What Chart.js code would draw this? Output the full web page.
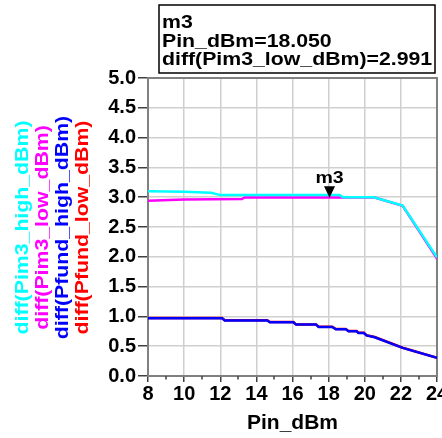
<!DOCTYPE html>
<html><head><meta charset="utf-8">
<script src="https://cdn.jsdelivr.net/npm/chart.js@4.4.1/dist/chart.umd.min.js"></script>
<style>html,body{margin:0;padding:0;background:#fff;overflow:hidden}canvas{display:block}</style>
</head><body>
<canvas id="c" width="442" height="438"></canvas>
<script>
// ---- data ----
const xTickLabels = ['8','10','12','14','16','18','20','22','24'];
const yTickLabels = ['0.0','0.5','1.0','1.5','2.0','2.5','3.0','3.5','4.0','4.5','5.0'];
const xMinorTicks = [9,11,13,15,17,19,21,23];
const xTitle = 'Pin_dBm';
const seriesNames = ['diff(Pim3_high_dBm)','diff(Pim3_low_dBm)','diff(Pfund_high_dBm)','diff(Pfund_low_dBm)'];
const seriesColors = ['#00ffff','#ff00ff','#0000ff','#ff0000'];

const pim3HighX = [8, 10, 11.5, 12.0, 18.6, 18.8, 20.5, 22.1, 24];
const pim3HighY = [3.10, 3.09, 3.075, 3.035, 3.035, 3.00, 3.00, 2.86, 1.99];
const pim3LowX  = [8, 10, 13.2, 13.35, 18.6, 20.5, 22.1, 24];
const pim3LowY  = [2.94, 2.96, 2.97, 2.995, 2.995, 3.00, 2.855, 1.97];
const pfundHighX = [8, 12.1, 12.25, 14.6, 14.75, 16.05, 16.2, 17.3, 17.45, 18.2, 18.4, 18.95, 19.1, 19.55, 19.65, 19.95, 20.1, 20.55, 22.1, 24];
const pfundHighY = [0.97, 0.97, 0.933, 0.933, 0.90, 0.90, 0.862, 0.862, 0.822, 0.822, 0.783, 0.783, 0.75, 0.75, 0.722, 0.722, 0.68, 0.65, 0.472, 0.305];
const pfundLowX  = [8, 12.1, 12.25, 14.6, 14.75, 16.05, 16.2, 17.3, 17.45, 18.2, 18.4, 18.95, 19.1, 19.55, 19.65, 19.95, 20.1, 20.55, 22.1, 24];
const pfundLowY  = [0.973, 0.973, 0.937, 0.937, 0.904, 0.904, 0.866, 0.866, 0.826, 0.826, 0.787, 0.787, 0.754, 0.754, 0.726, 0.726, 0.684, 0.654, 0.475, 0.307];

const markerName = 'm3';
const markerX = 18.05;
const markerY = 2.991;
const markerTrace = 'diff(Pim3_low_dBm)';

// ---- helpers ----
const FONT = '"Liberation Sans", Arial, sans-serif';
function pts(xs, ys){ return xs.map((x,i)=>({x:x, y:ys[i]})); }
function sText(ctx, text, x, y, size, sx, align){
  ctx.save(); ctx.translate(x,y); ctx.scale(sx,1);
  ctx.font = 'bold ' + size + 'px ' + FONT;
  ctx.textAlign = align; ctx.textBaseline = 'alphabetic'; ctx.fillStyle = '#000';
  ctx.fillText(text,0,0); ctx.restore();
}

const framePlugin = {
  id:'frame',
  beforeDatasetsDraw(chart){
    const {ctx, chartArea:a} = chart;
    ctx.save();
    ctx.strokeStyle = '#808080'; ctx.lineWidth = 2;
    ctx.strokeRect(a.left, a.top, a.right-a.left, a.bottom-a.top);
    const xs = chart.scales.x;
    ctx.strokeStyle = '#404040'; ctx.lineWidth = 1.5;
    xMinorTicks.forEach(v=>{
      const px = Math.round(xs.getPixelForValue(v));
      ctx.beginPath(); ctx.moveTo(px, a.bottom); ctx.lineTo(px, a.bottom+3.5); ctx.stroke();
    });
    ctx.restore();
  },
  afterDraw(chart){
    const {ctx, chartArea:a} = chart;
    const xs = chart.scales.x, ys = chart.scales.y;
    const cy = (a.top + a.bottom)/2 + 0.5;
    const baseX = [28, 48, 68, 88];
    seriesNames.forEach((n,i)=>{
      ctx.save();
      ctx.translate(baseX[i], cy);
      ctx.rotate(-Math.PI/2);
      ctx.scale(1.15,1);
      ctx.font = 'bold 18.5px ' + FONT;
      ctx.textAlign = 'center'; ctx.textBaseline = 'alphabetic';
      ctx.fillStyle = seriesColors[i];
      ctx.fillText(n,0,0);
      ctx.restore();
    });
    const mx = xs.getPixelForValue(markerX), my = ys.getPixelForValue(markerY);
    ctx.save();
    ctx.fillStyle = '#000';
    ctx.beginPath(); ctx.moveTo(mx, my); ctx.lineTo(mx-5.5, my-11.5); ctx.lineTo(mx+5.5, my-11.5); ctx.closePath(); ctx.fill();
    ctx.restore();
    sText(ctx, markerName, mx, my-14.5, 17, 1.15, 'center');
    ctx.save();
    ctx.strokeStyle = '#000'; ctx.lineWidth = 1.5;
    ctx.strokeRect(159, 5, 276, 68);
    ctx.restore();
    sText(ctx, markerName, 162, 28, 18.5, 1.15, 'left');
    sText(ctx, xTitle + '=' + markerX.toFixed(3), 162, 46.7, 18.5, 1.15, 'left');
    sText(ctx, markerTrace + '=' + markerY.toFixed(3), 162, 65.4, 18.5, 1.15, 'left');
  }
};

new Chart(document.getElementById('c'), {
  type:'line',
  data:{
    datasets:[
      {label:seriesNames[0], data:pts(pim3HighX,pim3HighY), borderColor:seriesColors[0], borderWidth:2.5},
      {label:seriesNames[1], data:pts(pim3LowX,pim3LowY), borderColor:seriesColors[1], borderWidth:2.5},
      {label:seriesNames[2], data:pts(pfundHighX,pfundHighY), borderColor:seriesColors[2], borderWidth:2.5},
      {label:seriesNames[3], data:pts(pfundLowX,pfundLowY), borderColor:seriesColors[3], borderWidth:2.5}
    ]
  },
  options:{
    responsive:false, animation:false,
    elements:{point:{radius:0}, line:{tension:0, fill:false}},
    layout:{padding:{left:0, top:78, right:5, bottom:0}},
    plugins:{legend:{display:false}, tooltip:{enabled:false}},
    scales:{
      x:{
        type:'linear', min:8, max:24,
        ticks:{stepSize:2, color:'#000', padding:0, maxRotation:0, autoSkip:false,
          font:{family:FONT, size:20, weight:'bold'},
          callback:(v)=>{ const i = xTickLabels.indexOf(String(v)); return i>=0 ? xTickLabels[i] : ''; }},
        grid:{color:'#cfcfcf', lineWidth:1.5, tickLength:6, tickColor:'#404040', tickWidth:1.5},
        border:{color:'#808080', width:2},
        title:{display:true, text:xTitle, color:'#000', padding:{top:0,bottom:2}, font:{family:FONT, size:21, weight:'bold'}},
        afterFit:(s)=>{ s.height = 62; s.paddingLeft = 0; s.paddingRight = 0; }
      },
      y:{
        min:0, max:5,
        ticks:{stepSize:0.5, color:'#000', padding:2,
          font:{family:FONT, size:20, weight:'bold'},
          callback:(v)=>{ const i = Math.round(v*2); return yTickLabels[i] || ''; }},
        grid:{color:'#cfcfcf', lineWidth:1.5, tickLength:10, tickColor:'#404040', tickWidth:1.5},
        border:{color:'#808080', width:2},
        afterFit:(s)=>{ s.width = 148; s.paddingTop = 0; s.paddingBottom = 0; }
      }
    }
  },
  plugins:[framePlugin]
});
</script>
</body></html>
